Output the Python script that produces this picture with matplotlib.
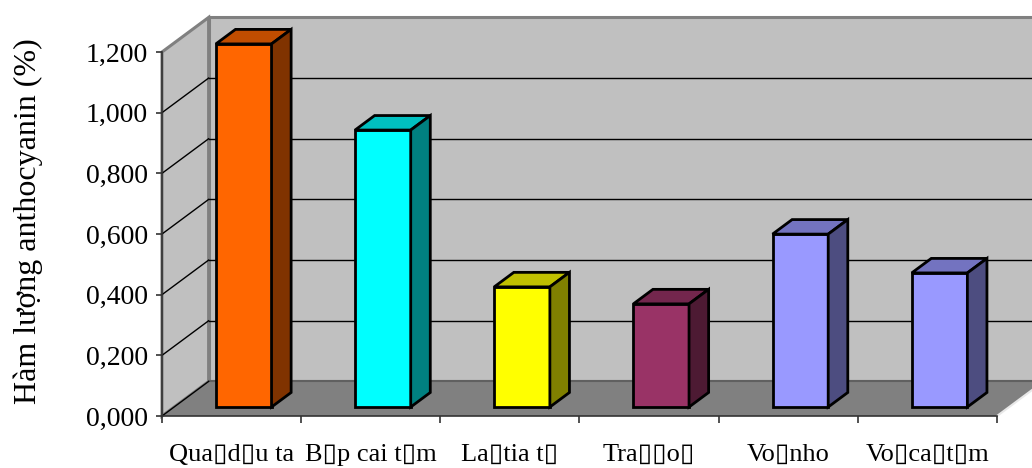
import numpy as np
import matplotlib
matplotlib.use("Agg")
import matplotlib.pyplot as plt
from matplotlib.patches import Polygon
from matplotlib.ticker import FixedLocator, FuncFormatter

plt.rcParams['font.family'] = ['Liberation Serif', 'DejaVu Sans']

# du lieu
categories = ['Qua▯d▯u ta', 'B▯p cai t▯m', 'La▯tia t▯', 'Tra▯▯o▯', 'Vo▯nho', 'Vo▯ca▯t▯m']
values = [1.197, 0.913, 0.396, 0.340, 0.570, 0.442]
y_ticks = [0.0, 0.2, 0.4, 0.6, 0.8, 1.0, 1.2]
front_colors = ['#FF6600', '#00FFFF', '#FFFF00', '#993366', '#9999FF', '#9999FF']
top_colors = ['#C04D00', '#00C0C0', '#C0C000', '#73264D', '#7373C0', '#7373C0']
side_colors = ['#803300', '#008080', '#808000', '#4D1A33', '#4D4D80', '#4D4D80']

W, H = 1032, 468
fig = plt.figure(figsize=(W / 100, H / 100), dpi=100)
ax = fig.add_axes([162 / W, 52 / H, (997 - 162) / W, 364 / H])
n = len(categories)
ymax = y_ticks[-1]
ax.set_xlim(0, n)
ax.set_ylim(0, ymax)
ax.patch.set_visible(False)

# chieu sau (3D gia lap)
DX = 0.335
DY = 0.114

# tuong sau
back = Polygon([(DX, DY), (n + DX, DY), (n + DX, ymax + DY), (DX, ymax + DY)],
               closed=True, facecolor='#C0C0C0', edgecolor='#808080', lw=2.2,
               clip_on=False, zorder=0.5)
ax.add_patch(back)
# tuong trai
side = Polygon([(0, 0), (DX, DY), (DX, ymax + DY), (0, ymax)], closed=True,
               facecolor='#C0C0C0', edgecolor='#808080', lw=2.2,
               clip_on=False, zorder=0.6)
ax.add_patch(side)
# san
floor = Polygon([(0, 0), (n, 0), (n + DX, DY), (DX, DY)], closed=True,
                facecolor='#808080', edgecolor='none', clip_on=False, zorder=0.7)
ax.add_patch(floor)
ax.plot([n, n + DX], [0, DY], color='#E8E8E8', lw=1.5, clip_on=False, zorder=0.8)
ax.plot([DX, n + DX], [DY, DY], color='#606060', lw=1.5, clip_on=False, zorder=0.8)

# luoi
for t in y_ticks[1:-1]:
    ax.plot([DX, n + DX], [t + DY, t + DY], color='black', lw=1, clip_on=False, zorder=0.9)
for t in y_ticks[:-1]:
    ax.plot([0, DX], [t, t + DY], color='black', lw=1, clip_on=False, zorder=0.9)

# cot
bw = 0.4
f0 = 0.26
fd = 0.42
for i, v in enumerate(values):
    x0 = i + 0.5 - bw / 2 + f0 * DX
    y0 = f0 * DY
    ddx, ddy = fd * DX, fd * DY
    ax.bar(x0, v, bw, bottom=y0, align='edge', color=front_colors[i],
           edgecolor='black', lw=2, clip_on=False, zorder=3)
    ax.add_patch(Polygon([(x0, y0 + v), (x0 + bw, y0 + v), (x0 + bw + ddx, y0 + v + ddy),
                          (x0 + ddx, y0 + v + ddy)], closed=True, facecolor=top_colors[i],
                         edgecolor='black', lw=2, joinstyle='miter', clip_on=False, zorder=3))
    ax.add_patch(Polygon([(x0 + bw, y0), (x0 + bw + ddx, y0 + ddy), (x0 + bw + ddx, y0 + v + ddy),
                          (x0 + bw, y0 + v)], closed=True, facecolor=side_colors[i],
                         edgecolor='black', lw=2, joinstyle='miter', clip_on=False, zorder=3))

# truc
for s in ['top', 'right']:
    ax.spines[s].set_visible(False)
for s in ['left', 'bottom']:
    ax.spines[s].set_color('#333333')
    ax.spines[s].set_linewidth(1.2)

ax.set_yticks(y_ticks)
ax.yaxis.set_major_formatter(FuncFormatter(lambda v, p: f"{v:.3f}".replace('.', ',')))
ax.tick_params(axis='y', length=4, width=1.2, color='#333333', pad=6, labelsize=20)

ax.xaxis.set_major_locator(FixedLocator(np.arange(n + 1)))
ax.xaxis.set_minor_locator(FixedLocator(np.arange(n) + 0.5))
ax.set_xticklabels([])
ax.set_xticklabels(categories, minor=True)
ax.tick_params(axis='x', which='major', length=5, width=1.2, color='#333333')
ax.tick_params(axis='x', which='minor', length=0, pad=20, labelsize=19)

fig.text(28 / W, 1 - 221 / H, 'Hàm lượng anthocyanin (%)', rotation=90,
         ha='center', va='center', fontsize=23)

fig.savefig('out.png', dpi=100)
